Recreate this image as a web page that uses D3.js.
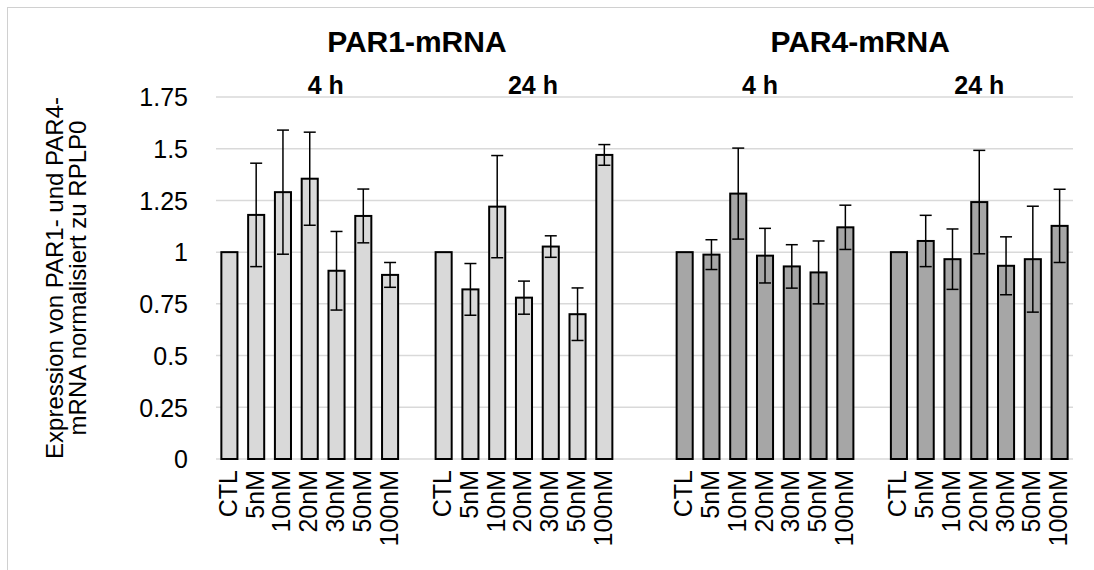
<!DOCTYPE html>
<html>
<head>
<meta charset="utf-8">
<script src="https://cdn.jsdelivr.net/npm/d3@7"></script>
<style>
  body { margin: 0; background: #fff; }
  text { font-family: "Liberation Sans", Arial, sans-serif; fill: #000; }
</style>
</head>
<body>
<svg class="chart"></svg>
<script>
// data
const doses = ['CTL', '5nM', '10nM', '20nM', '30nM', '50nM', '100nM'];
const genes = ['PAR1-mRNA', 'PAR4-mRNA'];
const times = ['4 h', '24 h'];
const yTicks = [0, 0.25, 0.5, 0.75, 1, 1.25, 1.5, 1.75];

const par1_4h = [1, 1.18, 1.29, 1.355, 0.91, 1.175, 0.89];
const par1_4h_err = [0, 0.25, 0.30, 0.225, 0.19, 0.13, 0.06];
const par1_24h = [1, 0.82, 1.22, 0.78, 1.027, 0.70, 1.47];
const par1_24h_err = [0, 0.125, 0.247, 0.08, 0.052, 0.127, 0.05];
const par4_4h = [1, 0.988, 1.283, 0.983, 0.931, 0.902, 1.12];
const par4_4h_err = [0, 0.072, 0.22, 0.132, 0.105, 0.152, 0.107];
const par4_24h = [1, 1.054, 0.966, 1.242, 0.934, 0.966, 1.127];
const par4_24h_err = [0, 0.124, 0.146, 0.25, 0.14, 0.256, 0.177];

const width = 1094, height = 570;
const svg = d3.select('.chart').attr('width', width).attr('height', height);

// outer chart border
svg.append('rect').attr('x', 7.5).attr('y', 7.5).attr('width', 1100).attr('height', 600)
  .attr('fill', 'none').attr('stroke', '#d0d0d0').attr('stroke-width', 1);

const groups = [
  {gene: genes[0], time: times[0], vals: par1_4h, errs: par1_4h_err, fill: '#d9d9d9', lab: 16},
  {gene: genes[0], time: times[1], vals: par1_24h, errs: par1_24h_err, fill: '#d9d9d9', lab: 9},
  {gene: genes[1], time: times[0], vals: par4_4h, errs: par4_4h_err, fill: '#a6a6a6', lab: -5},
  {gene: genes[1], time: times[1], vals: par4_24h, errs: par4_24h_err, fill: '#a6a6a6', lab: 0}
];

// category slots, blank slots between the groups like the Excel sheet
const gaps = [1, 2, 1];
const slots = [];
const rows = [];
groups.forEach((g, gi) => {
  doses.forEach((d, i) => {
    const key = g.gene + '|' + g.time + '|' + d;
    slots.push(key);
    rows.push({key, dose: d, v: g.vals[i], e: g.errs[i], fill: g.fill});
  });
  if (gi < gaps.length) for (let k = 0; k < gaps[gi]; k++) slots.push('gap' + gi + '_' + k);
});

const x = d3.scaleBand().domain(slots).range([216, 1073]).paddingInner(0.4).paddingOuter(0.2);
const y = d3.scaleLinear().domain([0, 1.75]).range([459, 97]);

// gridlines
svg.append('g').selectAll('line').data(yTicks).join('line')
  .attr('x1', 216).attr('x2', 1073)
  .attr('y1', d => y(d)).attr('y2', d => y(d))
  .attr('stroke', '#d9d9d9').attr('stroke-width', 1.5);

// y axis labels
const yAxis = svg.append('g').attr('transform', 'translate(196,0)')
  .call(d3.axisLeft(y).tickValues(yTicks).tickFormat(d => String(d)).tickSize(0).tickPadding(8));
yAxis.select('.domain').remove();
yAxis.selectAll('text').style('font-size', '25px').attr('font-family', null).attr('dy', '0.35em');

// bars
svg.append('g').selectAll('rect').data(rows).join('rect')
  .attr('x', d => x(d.key)).attr('width', x.bandwidth())
  .attr('y', d => y(d.v)).attr('height', d => y(0) - y(d.v))
  .attr('fill', d => d.fill).attr('stroke', '#000').attr('stroke-width', 2);

// error bars
const eb = svg.append('g').attr('stroke', '#000').attr('stroke-width', 1.5);
const withErr = rows.filter(d => d.e > 0);
const cx = d => x(d.key) + x.bandwidth() / 2;
eb.selectAll('.stem').data(withErr).join('line')
  .attr('x1', cx).attr('x2', cx)
  .attr('y1', d => y(d.v + d.e)).attr('y2', d => y(d.v - d.e));
eb.selectAll('.capt').data(withErr).join('line')
  .attr('x1', d => cx(d) - 6).attr('x2', d => cx(d) + 6)
  .attr('y1', d => y(d.v + d.e)).attr('y2', d => y(d.v + d.e));
eb.selectAll('.capb').data(withErr).join('line')
  .attr('x1', d => cx(d) - 6).attr('x2', d => cx(d) + 6)
  .attr('y1', d => y(d.v - d.e)).attr('y2', d => y(d.v - d.e));

// x tick labels, rotated
svg.append('g').selectAll('text').data(rows).join('text')
  .attr('transform', d => `translate(${cx(d)},470) rotate(-90)`)
  .attr('text-anchor', 'end').attr('dy', '0.3em')
  .style('font-size', '25px')
  .text(d => d.dose);

// time labels above each group
const groupCenter = g => {
  const a = x(g.gene + '|' + g.time + '|' + doses[0]);
  const b = x(g.gene + '|' + g.time + '|' + doses[doses.length - 1]) + x.bandwidth();
  return (a + b) / 2;
};
svg.append('g').selectAll('text').data(groups).join('text')
  .attr('x', g => groupCenter(g) + g.lab).attr('y', 94)
  .attr('text-anchor', 'middle')
  .style('font-size', '25px').style('font-weight', 'bold')
  .text(g => g.time);

// gene titles
const titleOffset = [0, -12];
svg.append('g').selectAll('text').data(genes).join('text')
  .attr('x', (gn, i) => {
    const gs = groups.filter(g => g.gene === gn);
    return (groupCenter(gs[0]) + groupCenter(gs[1])) / 2 + titleOffset[i];
  })
  .attr('y', 52)
  .attr('text-anchor', 'middle')
  .style('font-size', '30px').style('font-weight', 'bold')
  .text(d => d);

// y axis title, two lines
const yt = svg.append('text')
  .attr('transform', 'translate(63,278) rotate(-90)')
  .attr('text-anchor', 'middle')
  .style('font-size', '24px');
yt.append('tspan').attr('x', 0).attr('dy', 0).text('Expression von PAR1- und PAR4-');
yt.append('tspan').attr('x', 0).attr('dy', 23).text('mRNA normalisiert zu RPLP0');
</script>
</body>
</html>
